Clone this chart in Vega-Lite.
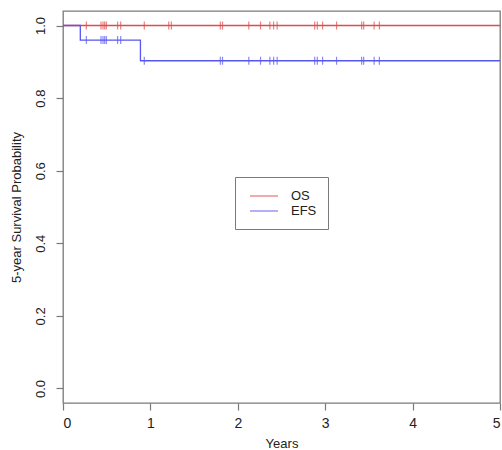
{
  "$schema": "https://vega.github.io/schema/vega-lite/v6.json",
  "autosize": "none",
  "width": 437,
  "height": 392,
  "padding": {"left": 63, "top": 11, "right": 2, "bottom": 47},
  "background": "white",
  "config": {
    "font": "Liberation Sans",
    "view": {"stroke": "#7a7a7a", "strokeWidth": 1.3},
    "axis": {
      "domain": false,
      "grid": false,
      "tickColor": "#7a7a7a",
      "tickSize": 7,
      "tickWidth": 1.2,
      "labelFont": "Liberation Sans",
      "labelFontSize": 13,
      "labelColor": "#222",
      "titleFont": "Liberation Sans",
      "titleFontSize": 13,
      "titleFontWeight": "normal",
      "titleColor": "#222"
    }
  },
  "datasets": {
    "curves": [
      {"series": "OS", "t": 0, "s": 1.0},
      {"series": "OS", "t": 5, "s": 1.0},
      {"series": "EFS", "t": 0, "s": 1.0},
      {"series": "EFS", "t": 0.198, "s": 0.96},
      {"series": "EFS", "t": 0.886, "s": 0.903},
      {"series": "EFS", "t": 5, "s": 0.903}
    ],
    "censor": [
      {"series": "OS", "t": 0.267, "s": 1.0},
      {"series": "OS", "t": 0.435, "s": 1.0},
      {"series": "OS", "t": 0.458, "s": 1.0},
      {"series": "OS", "t": 0.477, "s": 1.0},
      {"series": "OS", "t": 0.496, "s": 1.0},
      {"series": "OS", "t": 0.625, "s": 1.0},
      {"series": "OS", "t": 0.66, "s": 1.0},
      {"series": "OS", "t": 0.93, "s": 1.0},
      {"series": "OS", "t": 1.21, "s": 1.0},
      {"series": "OS", "t": 1.24, "s": 1.0},
      {"series": "OS", "t": 1.8, "s": 1.0},
      {"series": "OS", "t": 1.825, "s": 1.0},
      {"series": "OS", "t": 2.126, "s": 1.0},
      {"series": "OS", "t": 2.26, "s": 1.0},
      {"series": "OS", "t": 2.367, "s": 1.0},
      {"series": "OS", "t": 2.41, "s": 1.0},
      {"series": "OS", "t": 2.45, "s": 1.0},
      {"series": "OS", "t": 2.88, "s": 1.0},
      {"series": "OS", "t": 2.91, "s": 1.0},
      {"series": "OS", "t": 2.97, "s": 1.0},
      {"series": "OS", "t": 3.13, "s": 1.0},
      {"series": "OS", "t": 3.417, "s": 1.0},
      {"series": "OS", "t": 3.44, "s": 1.0},
      {"series": "OS", "t": 3.56, "s": 1.0},
      {"series": "OS", "t": 3.62, "s": 1.0},
      {"series": "EFS", "t": 0.267, "s": 0.96},
      {"series": "EFS", "t": 0.435, "s": 0.96},
      {"series": "EFS", "t": 0.458, "s": 0.96},
      {"series": "EFS", "t": 0.477, "s": 0.96},
      {"series": "EFS", "t": 0.496, "s": 0.96},
      {"series": "EFS", "t": 0.625, "s": 0.96},
      {"series": "EFS", "t": 0.66, "s": 0.96},
      {"series": "EFS", "t": 0.93, "s": 0.903},
      {"series": "EFS", "t": 1.8, "s": 0.903},
      {"series": "EFS", "t": 1.825, "s": 0.903},
      {"series": "EFS", "t": 2.126, "s": 0.903},
      {"series": "EFS", "t": 2.26, "s": 0.903},
      {"series": "EFS", "t": 2.367, "s": 0.903},
      {"series": "EFS", "t": 2.41, "s": 0.903},
      {"series": "EFS", "t": 2.45, "s": 0.903},
      {"series": "EFS", "t": 2.88, "s": 0.903},
      {"series": "EFS", "t": 2.91, "s": 0.903},
      {"series": "EFS", "t": 2.97, "s": 0.903},
      {"series": "EFS", "t": 3.13, "s": 0.903},
      {"series": "EFS", "t": 3.417, "s": 0.903},
      {"series": "EFS", "t": 3.44, "s": 0.903},
      {"series": "EFS", "t": 3.56, "s": 0.903},
      {"series": "EFS", "t": 3.62, "s": 0.903}
    ]
  },
  "encoding": {
    "x": {
      "field": "t", "type": "quantitative",
      "scale": {"domain": [0, 5], "nice": false, "zero": false},
      "axis": {"title": "Years", "values": [0, 1, 2, 3, 4, 5], "format": "d", "labelPadding": 6, "titlePadding": 7, "labelFontSize": 14}
    },
    "y": {
      "field": "s", "type": "quantitative",
      "scale": {"domain": [-0.04, 1.04], "nice": false, "zero": false},
      "axis": {"title": "5-year Survival Probability", "values": [0, 0.2, 0.4, 0.6, 0.8, 1.0], "format": ".1f", "labelAngle": 270, "labelAlign": "center", "labelBaseline": "bottom", "labelPadding": 9, "titlePadding": 11}
    },
    "color": {
      "field": "series", "type": "nominal",
      "scale": {"domain": ["OS", "EFS"], "range": ["#e04b4b", "#5656f2"]},
      "legend": {
        "title": null,
        "orient": "none",
        "legendX": 172,
        "legendY": 166,
        "symbolType": "M-0.57,0H3.43",
        "symbolSize": 196,
        "symbolStrokeWidth": 1.3,
        "labelFontSize": 13,
        "labelFont": "Liberation Sans",
        "labelColor": "#222",
        "labelOffset": 29,
        "strokeColor": "#7a7a7a",
        "fillColor": "white",
        "padding": 11,
        "rowPadding": -2
      }
    }
  },
  "layer": [
    {
      "data": {"name": "curves"},
      "mark": {"type": "line", "interpolate": "step-after", "strokeWidth": 1.3}
    },
    {
      "data": {"name": "censor"},
      "mark": {"type": "tick", "orient": "vertical", "size": 8, "thickness": 1.2}
    }
  ]
}
